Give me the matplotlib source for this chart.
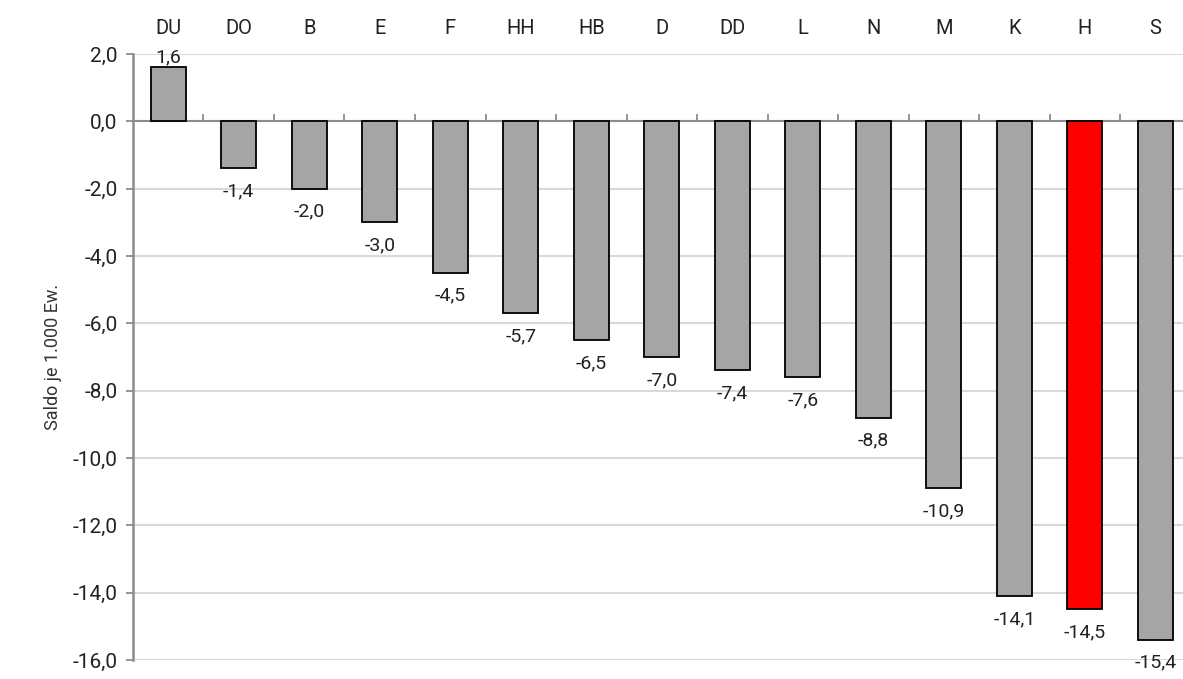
# Wanderungssaldo je 1.000 Einwohner nach Städten

import matplotlib
matplotlib.use('Agg')
import matplotlib.pyplot as plt
from matplotlib.ticker import FuncFormatter, MultipleLocator

plt.rcParams['font.family'] = ['Roboto', 'DejaVu Sans']

staedte = ['DU', 'DO', 'B', 'E', 'F', 'HH', 'HB', 'D', 'DD', 'L', 'N', 'M', 'K', 'H', 'S']
saldo = [1.6, -1.4, -2.0, -3.0, -4.5, -5.7, -6.5, -7.0, -7.4, -7.6, -8.8, -10.9, -14.1, -14.5, -15.4]
hervorgehoben = 'H'

def fmt_de(v, pos=None):
    return f'{v:.1f}'.replace('.', ',')

fig = plt.figure(figsize=(11.83, 6.79), dpi=100)
ax = fig.add_axes([0.1124, 0.028, 0.894, 0.8925])

x = list(range(len(staedte)))
farben = ['#ff0000' if s == hervorgehoben else '#a5a5a5' for s in staedte]
ax.bar(x, saldo, width=0.5, color=farben, edgecolor='black', linewidth=1.3, zorder=3)

# Werte an die Balken schreiben
for xi, v in zip(x, saldo):
    if v >= 0:
        ax.annotate(fmt_de(v), (xi, v), xytext=(0, 1), textcoords='offset points',
                    ha='center', va='bottom', fontsize=14, color='#222222', zorder=4)
    else:
        ax.annotate(fmt_de(v), (xi, v), xytext=(0, -10), textcoords='offset points',
                    ha='center', va='top', fontsize=14, color='#222222',
                    annotation_clip=False, zorder=4)

# Städtenamen oberhalb des Diagramms
for xi, s in zip(x, staedte):
    ax.annotate(s, (xi, 1.0), xycoords=('data', 'axes fraction'), xytext=(0, 18.5),
                textcoords='offset points', ha='center', va='center',
                fontsize=14.5, color='#222222', annotation_clip=False)

ax.set_xlim(-0.5, len(staedte) - 0.5)
ax.set_ylim(-16, 2)
ax.yaxis.set_major_locator(MultipleLocator(2))
ax.yaxis.set_major_formatter(FuncFormatter(fmt_de))
ax.grid(axis='y', color='#d9d9d9', linewidth=1.5, zorder=0)
ax.set_axisbelow(True)

# x-Achse auf der Nulllinie mit Teilstrichen zwischen den Kategorien
ax.spines['bottom'].set_position(('data', 0))
ax.spines['bottom'].set_color('#8c8c8c')
ax.spines['bottom'].set_linewidth(1.5)
ax.spines['bottom'].set_zorder(2)
ax.set_xticks([i + 0.5 for i in range(len(staedte) - 1)])
ax.set_xticklabels([])
ax.tick_params(axis='x', direction='in', length=5, width=1.3, color='#8c8c8c')

ax.spines['left'].set_color('#8c8c8c')
ax.spines['left'].set_linewidth(1.8)
ax.spines['top'].set_visible(False)
ax.spines['right'].set_visible(False)
ax.tick_params(axis='y', direction='out', length=5, width=1.3, color='#8c8c8c',
               labelsize=15, labelcolor='#222222', pad=6)

ax.set_ylabel('Saldo je 1.000 Ew.', fontsize=13, color='#333333', labelpad=8)

plt.savefig('out.png', dpi=100)
plt.close(fig)
